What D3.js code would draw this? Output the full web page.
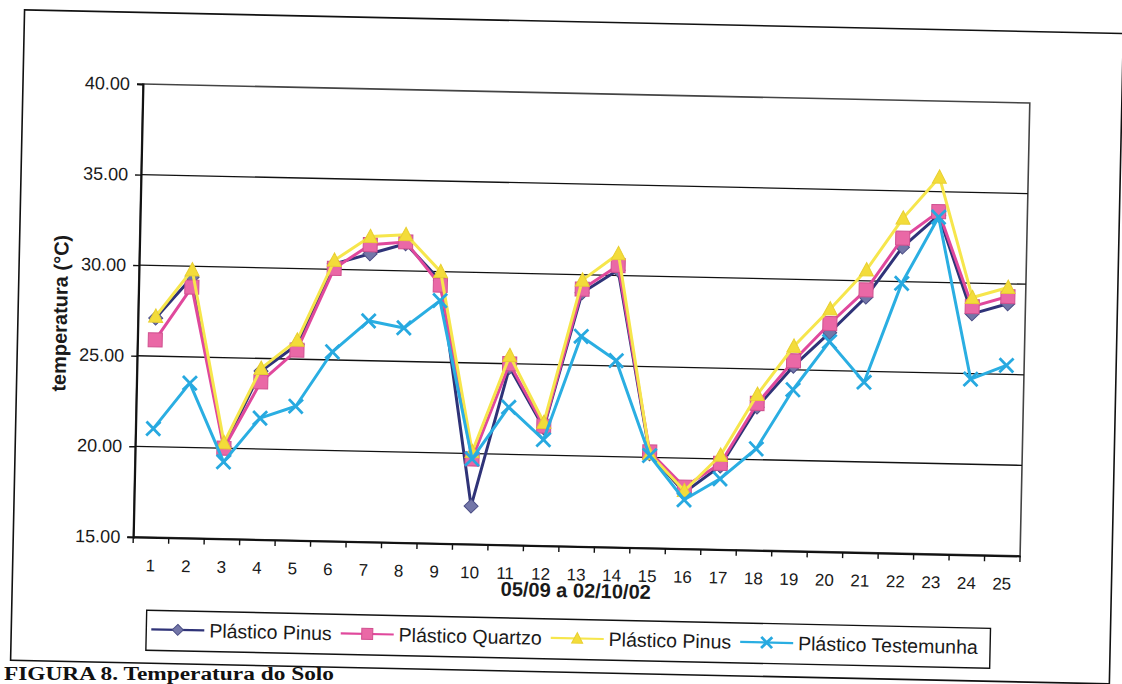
<!DOCTYPE html>
<html><head><meta charset="utf-8">
<script src="https://cdn.jsdelivr.net/npm/d3@7"></script>
<style>body{margin:0;background:#fff}svg{display:block}</style>
</head><body>
<svg id="c" width="1122" height="684"></svg>
<script>
const categories = ["1","2","3","4","5","6","7","8","9","10","11","12","13","14","15","16","17","18","19","20","21","22","23","24","25"];
const pinus      = [27.1, 29.4, 20.1, 24.3, 25.8, 30.3, 30.9, 31.5, 29.5, 17.1, 24.8, 21.5, 29.0, 30.3, 20.2, 18.1, 19.6, 22.9, 25.2, 27.1, 29.1, 31.9, 33.7, 28.3, 28.9];
const quartzo    = [25.9, 28.85, 20.0, 23.7, 25.5, 30.05, 31.4, 31.6, 29.25, 19.7, 25.0, 21.6, 29.2, 30.55, 20.3, 18.4, 19.75, 23.1, 25.5, 27.6, 29.5, 32.4, 33.9, 28.7, 29.3];
const pinus2     = [27.2, 29.8, 20.3, 24.45, 26.05, 30.5, 31.85, 32.0, 30.0, 20.1, 25.45, 21.8, 29.7, 31.2, 20.2, 18.2, 20.2, 23.6, 26.3, 28.4, 30.6, 33.5, 35.8, 29.2, 29.8];
const testemunha = [21.0, 23.55, 19.25, 21.7, 22.4, 25.45, 27.2, 26.85, 28.4, 19.7, 22.6, 20.85, 26.6, 25.3, 20.1, 17.7, 18.9, 20.6, 23.9, 26.6, 24.4, 29.9, 33.6, 24.7, 25.5];
const yTicks = [15, 20, 25, 30, 35, 40];
const seriesNames = ["Plástico Pinus", "Plástico Quartzo", "Plástico Pinus", "Plástico Testemunha"];
const xTitle = "05/09 a 02/10/02";
const yTitle = "temperatura (°C)";
const caption = "FIGURA 8. Temperatura do Solo";

const series = [
  {name: seriesNames[0], values: pinus, line: "#2f3378", fill: "#7376a8", stroke: "#4a4d85", shape: "diamond"},
  {name: seriesNames[1], values: quartzo, line: "#e0489c", fill: "#ea68a6", stroke: "#d0508f", shape: "square"},
  {name: seriesNames[2], values: pinus2, line: "#f6e64c", fill: "#f3dc3a", stroke: "#e8cf30", shape: "triangle"},
  {name: seriesNames[3], values: testemunha, line: "#2aaee2", fill: "none", stroke: "#27a9e0", shape: "x"}
];

const FONT = "'Liberation Sans', Arial, sans-serif";
const svg = d3.select("#c");
const g = svg.append("g").attr("transform", "rotate(1.23,143,84)");

// outer chart border
g.append("rect").attr("x", 23).attr("y", 12.5).attr("width", 1099).attr("height", 650.5)
  .attr("fill", "none").attr("stroke", "#111").attr("stroke-width", 1.6);

const W = 887, H = 453;
const plot = g.append("g").attr("transform", "translate(143,84)");
const x = d3.scaleBand().domain(categories).range([0, W]);
const cx = d => x(d) + x.bandwidth() / 2;
const y = d3.scaleLinear().domain([15, 40]).range([H, 0]);

// plot border
plot.append("rect").attr("width", W).attr("height", H).attr("fill", "none")
  .attr("stroke", "#444").attr("stroke-width", 1.6);

// gridlines
plot.append("g").selectAll("line").data(yTicks.filter(v => v > 15 && v < 40)).join("line")
  .attr("x1", 0).attr("x2", W).attr("y1", d => y(d)).attr("y2", d => y(d))
  .attr("stroke", "#111").attr("stroke-width", 1.3);

// y axis
const ya = plot.append("g").call(d3.axisLeft(y).tickValues(yTicks).tickFormat(d3.format(".2f")).tickSize(6).tickPadding(7));
ya.select(".domain").attr("stroke", "#111").attr("stroke-width", 2);
ya.selectAll(".tick line").attr("stroke", "#111").attr("stroke-width", 1.4);
ya.selectAll("text").attr("font-family", FONT).attr("font-size", 18).attr("fill", "#1a1a1a");

// x axis
const xa = plot.append("g").attr("transform", `translate(0,${H})`)
  .call(d3.axisBottom(x).tickSize(0).tickPadding(22));
xa.select(".domain").attr("stroke", "#111").attr("stroke-width", 2);
xa.selectAll("text").attr("font-family", FONT).attr("font-size", 17).attr("fill", "#1a1a1a");
const bounds = categories.map(c => x(c)).concat([W]);
xa.append("g").selectAll("line").data(bounds).join("line")
  .attr("x1", d => d).attr("x2", d => d).attr("y1", 0).attr("y2", 6)
  .attr("stroke", "#111").attr("stroke-width", 1.4);

// axis titles
plot.append("text").attr("x", W / 2).attr("y", H + 51).attr("text-anchor", "middle")
  .attr("font-family", FONT).attr("font-size", 20).attr("font-weight", "bold").attr("fill", "#1a1a1a").text(xTitle);
plot.append("text").attr("transform", `translate(-71,${231}) rotate(-90)`).attr("text-anchor", "middle")
  .attr("font-family", FONT).attr("font-size", 20).attr("font-weight", "bold").attr("fill", "#1a1a1a").text(yTitle);

function marker(sel, s, size) {
  const h = size / 2;
  if (s.shape === "diamond") {
    sel.append("path").attr("d", `M0,${-h}L${h},0L0,${h}L${-h},0Z`).attr("fill", s.fill).attr("stroke", s.stroke).attr("stroke-width", 1);
  } else if (s.shape === "square") {
    sel.append("rect").attr("x", -h).attr("y", -h).attr("width", size).attr("height", size).attr("fill", s.fill).attr("stroke", s.stroke).attr("stroke-width", 1);
  } else if (s.shape === "triangle") {
    sel.append("path").attr("d", `M0,${-h * 1.05}L${h},${h * 0.85}L${-h},${h * 0.85}Z`).attr("fill", s.fill).attr("stroke", s.stroke).attr("stroke-width", 1);
  } else {
    sel.append("path").attr("d", `M${-h},${-h}L${h},${h}M${-h},${h}L${h},${-h}`).attr("fill", "none").attr("stroke", s.stroke).attr("stroke-width", 2.8);
  }
}

const line = d3.line().x((d, i) => cx(categories[i])).y(d => y(d));
series.forEach(s => {
  const sg = plot.append("g");
  sg.append("path").attr("d", line(s.values)).attr("fill", "none").attr("stroke", s.line).attr("stroke-width", 3).attr("stroke-linejoin", "round");
  s.values.forEach((v, i) => {
    const m = sg.append("g").attr("transform", `translate(${cx(categories[i])},${y(v)})`);
    marker(m, s, 14);
  });
});

// legend
const lg = g.append("g");
lg.append("rect").attr("x", 158).attr("y", 610).attr("width", 844).attr("height", 40)
  .attr("fill", "#fff").attr("stroke", "#111").attr("stroke-width", 1.4);
let lx = 163;
series.forEach(s => {
  const it = lg.append("g");
  it.append("line").attr("x1", lx).attr("x2", lx + 53).attr("y1", 629).attr("y2", 629).attr("stroke", s.line).attr("stroke-width", 2.2);
  const m = it.append("g").attr("transform", `translate(${lx + 26.5},629)`);
  marker(m, s, 11);
  const t = it.append("text").attr("x", lx + 58).attr("y", 636).attr("font-family", FONT).attr("font-size", 19.5).attr("fill", "#1a1a1a").text(s.name);
  lx = lx + 58 + t.node().getComputedTextLength() + 9;
});

// caption below the chart box (kept fully inside the page)
svg.append("text").attr("x", 4).attr("y", 680).attr("font-family", "'Liberation Serif', 'Times New Roman', serif")
  .attr("font-size", 18).attr("font-weight", "bold").attr("fill", "#111")
  .attr("textLength", 330).attr("lengthAdjust", "spacingAndGlyphs").text(caption);
</script>
</body></html>
